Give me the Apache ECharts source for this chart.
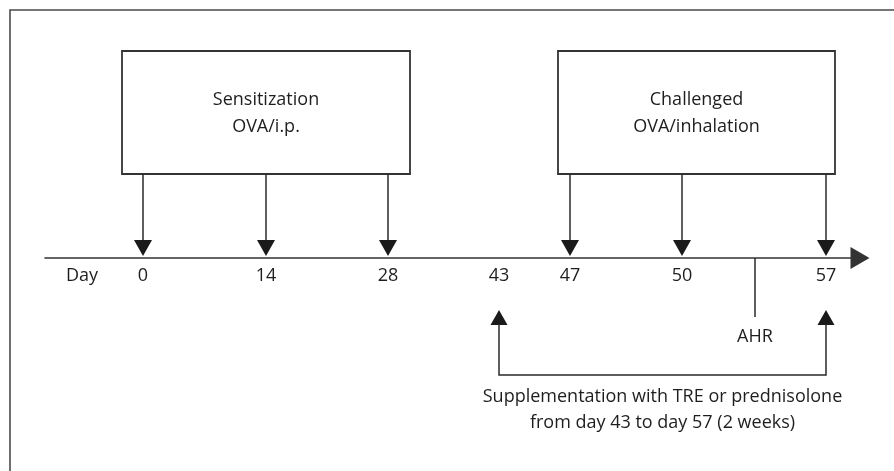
<!DOCTYPE html>
<html>
<head>
<meta charset="utf-8">
<script src="https://cdn.jsdelivr.net/npm/echarts@6/dist/echarts.min.js"></script>
<style>html,body{margin:0;padding:0;background:#fff}#c{width:894px;height:471px}</style>
</head>
<body>
<div id="c"></div>
<script>
// ---- data ----
const dayLabelTitle = 'Day';
const days = [0, 14, 28, 43, 47, 50, 57];
const dayLabels = ['0', '14', '28', '43', '47', '50', '57'];
const sensitizationDays = [0, 14, 28];
const challengeDays = [47, 50, 57];
const boxTitles = [['Sensitization', 'OVA/i.p.'], ['Challenged', 'OVA/inhalation']];
const ahrLabel = 'AHR';
const supplementFrom = 43;
const supplementTo = 57;
const supplementText = ['Supplementation with TRE or prednisolone', 'from day 43 to day 57 (2 weeks)'];

// ---- schematic (not to scale) layout along the timeline, in axis units ----
const dayPos = {0: 98, 14: 221, 28: 343, 43: 454, 47: 525, 50: 637, 57: 781};
const dayTitlePos = 37;
const ahrPos = 710;
const boxSpans = [[77, 365], [513, 790]];
const LV = {boxTop: 207, boxBot: 84, line1: 158, line2: 131, label: -18,
            ahrEnd: -59, ahrText: -79, upTip: -52, bracket: -117, txt1: -139, txt2: -165};

const FONT = '"Open Sans", "Noto Sans", sans-serif';
const FS = 18;
const TXT = '#1e1e1e';
const LINE = '#2a2a2a';

function txt(x, y, s) {
  return {type: 'text', style: {text: s, x: x, y: y, align: 'center', verticalAlign: 'middle',
          fontFamily: FONT, fontSize: FS, fill: TXT}};
}

const chart = echarts.init(document.getElementById('c'), null, {renderer: 'canvas'});
chart.setOption({
  animation: false,
  backgroundColor: '#fff',
  grid: [
    {left: 10, top: 10, right: 0, bottom: 0, show: false},
    {left: 45, top: 10, right: 34, bottom: 0}
  ],
  xAxis: [
    {gridIndex: 0, type: 'value', show: false, min: 0, max: 1},
    {gridIndex: 1, type: 'value', min: 0, max: 815,
     axisLine: {show: true, onZero: true, symbol: ['none', 'triangle'], symbolSize: [22, 19],
                lineStyle: {color: '#333', width: 1.6}},
     axisTick: {show: false}, axisLabel: {show: false}, splitLine: {show: false}}
  ],
  yAxis: [
    {gridIndex: 0, type: 'value', show: false, min: 0, max: 1},
    {gridIndex: 1, type: 'value', min: -213, max: 248, show: false, splitLine: {show: false}}
  ],
  series: [
    { // outer frame (left and top edges; the rest lies outside the picture)
      type: 'custom', xAxisIndex: 0, yAxisIndex: 0, silent: true,
      data: [[0, 0]],
      renderItem: function (params, api) {
        const a = api.coord([0, 0]), b = api.coord([0, 1]), c = api.coord([1, 1]);
        return {type: 'polyline', shape: {points: [[a[0], a[1] + 5], b, [c[0] + 5, c[1]]]},
                style: {stroke: '#4a4a4a', lineWidth: 1.6, fill: null}};
      }
    },
    { // phase boxes
      type: 'custom', xAxisIndex: 1, yAxisIndex: 1,
      data: boxSpans.map((s, i) => [s[0], s[1], i]),
      renderItem: function (params, api) {
        const i = api.value(2);
        const p0 = api.coord([api.value(0), LV.boxTop]);
        const p1 = api.coord([api.value(1), LV.boxBot]);
        const cx = (p0[0] + p1[0]) / 2;
        return {type: 'group', children: [
          {type: 'rect', shape: {x: p0[0], y: p0[1], width: p1[0] - p0[0], height: p1[1] - p0[1]},
           style: {fill: '#fff', stroke: '#333', lineWidth: 1.8}},
          txt(cx, api.coord([0, LV.line1])[1], boxTitles[i][0]),
          txt(cx, api.coord([0, LV.line2])[1], boxTitles[i][1])
        ]};
      }
    },
    { // down arrows from boxes to the timeline
      type: 'custom', xAxisIndex: 1, yAxisIndex: 1,
      data: sensitizationDays.concat(challengeDays).map(d => [dayPos[d], d]),
      renderItem: function (params, api) {
        const top = api.coord([api.value(0), LV.boxBot]);
        const tip = api.coord([api.value(0), 0]);
        const x = top[0], ty = tip[1] - 2;
        return {type: 'group', children: [
          {type: 'line', shape: {x1: x, y1: top[1], x2: x, y2: ty - 10}, style: {stroke: LINE, lineWidth: 1.5}},
          {type: 'polygon', shape: {points: [[x - 9, ty - 16], [x + 9, ty - 16], [x, ty]]}, style: {fill: '#1a1a1a'}}
        ]};
      }
    },
    { // day labels
      type: 'custom', xAxisIndex: 1, yAxisIndex: 1,
      data: days.map((d, i) => [dayPos[d], i]),
      renderItem: function (params, api) {
        const p = api.coord([api.value(0), LV.label]);
        return txt(p[0], p[1], dayLabels[api.value(1)]);
      }
    },
    { // "Day" title
      type: 'custom', xAxisIndex: 1, yAxisIndex: 1,
      data: [[dayTitlePos]],
      renderItem: function (params, api) {
        const p = api.coord([api.value(0), LV.label]);
        return txt(p[0], p[1], dayLabelTitle);
      }
    },
    { // AHR marker
      type: 'custom', xAxisIndex: 1, yAxisIndex: 1,
      data: [[ahrPos]],
      renderItem: function (params, api) {
        const a = api.coord([api.value(0), 0]);
        const b = api.coord([api.value(0), LV.ahrEnd]);
        const t = api.coord([api.value(0), LV.ahrText]);
        return {type: 'group', children: [
          {type: 'line', shape: {x1: a[0], y1: a[1], x2: b[0], y2: b[1]}, style: {stroke: LINE, lineWidth: 1.5}},
          txt(t[0], t[1], ahrLabel)
        ]};
      }
    },
    { // supplementation bracket
      type: 'custom', xAxisIndex: 1, yAxisIndex: 1,
      data: [[dayPos[supplementFrom], dayPos[supplementTo]]],
      renderItem: function (params, api) {
        const a = api.coord([api.value(0), LV.upTip]);
        const b = api.coord([api.value(1), LV.upTip]);
        const yb = api.coord([0, LV.bracket])[1];
        const t1 = api.coord([(api.value(0) + api.value(1)) / 2]);
        const mid = (api.value(0) + api.value(1)) / 2 + 0;
        const p1 = api.coord([mid, LV.txt1]);
        const p2 = api.coord([mid, LV.txt2]);
        const ch = [];
        [a, b].forEach(p => {
          ch.push({type: 'polygon', shape: {points: [[p[0] - 8.5, p[1] + 15], [p[0] + 8.5, p[1] + 15], [p[0], p[1]]]}, style: {fill: '#1a1a1a'}});
        });
        ch.push({type: 'polyline', shape: {points: [[a[0], a[1] + 14], [a[0], yb], [b[0], yb], [b[0], b[1] + 14]]},
                 style: {stroke: LINE, lineWidth: 1.5, fill: null}});
        ch.push(txt(p1[0], p1[1], supplementText[0]));
        ch.push(txt(p2[0], p2[1], supplementText[1]));
        return {type: 'group', children: ch};
      }
    }
  ]
});
</script>
</body>
</html>
